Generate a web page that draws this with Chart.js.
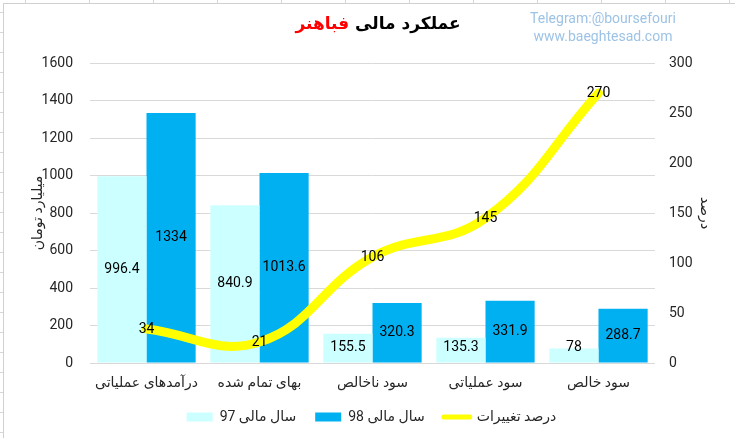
<!DOCTYPE html>
<html>
<head>
<meta charset="utf-8">
<script src="https://cdn.jsdelivr.net/npm/chart.js@4.4.0/dist/chart.umd.min.js"></script>
<style>
  html, body { margin: 0; padding: 0; }
  #wrap {
    position: relative; width: 735px; height: 438px; overflow: hidden;
    background-color: #fff;
    background-image:
      repeating-linear-gradient(to right, transparent 0 25px, #d6d6d6 25px 26px, transparent 26px 64px),
      repeating-linear-gradient(to bottom, transparent 0 12px, #d6d6d6 12px 13px, transparent 13px 20px);
  }
  #sheet { position: absolute; left: 3px; top: 3px; right: 0; bottom: 0; background: #fff;
           border-left: 1px solid #d0d0d0; border-top: 1px solid #d0d0d0; }
  #c { position: absolute; left: 0; top: 0; }
  #title { position: absolute; left: 250px; width: 256px; top: 13px; text-align: center;
           font: bold 17px "DejaVu Sans", sans-serif; color: #000; direction: rtl; }
  #title .red { color: #ff0000; }
  #wm { position: absolute; left: 518px; width: 170px; top: 9px; text-align: center;
        font: 14px Roboto, "DejaVu Sans", sans-serif; color: #9dc3e6; line-height: 18px; }
</style>
</head>
<body>
<div id="wrap">
  <div id="sheet"></div>
  <canvas id="c" width="735" height="438"></canvas>
  <div id="title">عملکرد مالی <span class="red">فباهنر</span></div>
  <div id="wm">Telegram:@boursefouri<br>www.baeghtesad.com</div>
</div>
<script>
const categories = ["درآمدهای عملیاتی", "بهای تمام شده", "سود ناخالص", "سود عملیاتی", "سود خالص"];
const year97 = [996.4, 840.9, 155.5, 135.3, 78];
const year98 = [1334, 1013.6, 320.3, 331.9, 288.7];
const changePct = [34, 21, 106, 145, 270];
const seriesNames = ["سال مالی 97", "سال مالی 98", "درصد تغییرات"];
const leftTitle = "میلیارد تومان";
const rightTitle = "درصد";

const FONT = 'Roboto, "DejaVu Sans", sans-serif';

const labelPlugin = {
  id: 'valueLabels',
  afterDatasetsDraw(chart) {
    const ctx = chart.ctx;
    ctx.save();
    ctx.font = '14px ' + FONT;
    ctx.fillStyle = '#000';
    ctx.textAlign = 'center';
    ctx.textBaseline = 'middle';
    chart.data.datasets.forEach((ds, di) => {
      const meta = chart.getDatasetMeta(di);
      meta.data.forEach((el, i) => {
        const v = ds.data[i];
        let x = el.x, y;
        if (ds.type === 'line') {
          y = el.y;
        } else {
          y = (el.y + el.base) / 2;
          y = Math.min(y, el.base - 15);
        }
        ctx.fillText(String(v), x, y);
      });
    });
    ctx.restore();
  }
};

new Chart(document.getElementById('c'), {
  data: {
    labels: categories,
    datasets: [
      { type: 'bar', label: seriesNames[0], data: year97, backgroundColor: '#ccffff', yAxisID: 'y', order: 2,
        categoryPercentage: 0.87, barPercentage: 1 },
      { type: 'bar', label: seriesNames[1], data: year98, backgroundColor: '#00b0f0', yAxisID: 'y', order: 2,
        categoryPercentage: 0.87, barPercentage: 1 },
      { type: 'line', label: seriesNames[2], data: changePct, borderColor: '#ffff00', backgroundColor: '#ffff00',
        borderWidth: 9, tension: 0.42, pointRadius: 0, borderCapStyle: 'round', yAxisID: 'y1', order: 1 }
    ]
  },
  options: {
    responsive: false,
    animation: false,
    devicePixelRatio: 1,
    layout: { padding: { left: 26, right: 18, top: 63, bottom: 4 } },
    plugins: {
      tooltip: { enabled: false },
      title: { display: false },
      legend: {
        position: 'bottom',
        labels: {
          font: { size: 14, family: FONT },
          color: '#262626',
          usePointStyle: true,
          pointStyleWidth: 26,
          boxHeight: 9,
          padding: 19,
          generateLabels(chart) {
            return chart.data.datasets.map((ds, i) => ({
              text: ds.label,
              datasetIndex: i,
              fillStyle: ds.backgroundColor,
              strokeStyle: ds.borderColor || ds.backgroundColor,
              lineWidth: ds.type === 'line' ? 5 : 0,
              lineCap: 'round',
              pointStyle: ds.type === 'line' ? 'line' : 'rect',
              fontColor: '#262626',
              hidden: false
            }));
          }
        }
      }
    },
    scales: {
      x: {
        grid: { display: false },
        border: { display: false },
        ticks: { font: { size: 14, family: FONT }, color: '#262626', padding: 4 },
        afterFit(s) { s.height = 28; }
      },
      y: {
        position: 'left',
        min: 0, max: 1600,
        ticks: { stepSize: 200, font: { size: 14, family: FONT }, color: '#262626', padding: 17,
                 callback: (v) => String(v) },
        grid: { color: '#d9d9d9', drawTicks: false },
        border: { display: false },
        title: { display: true, text: leftTitle, font: { size: 14, family: FONT }, color: '#262626', padding: 4 },
        afterFit(s) { s.width = 64; }
      },
      y1: {
        position: 'right',
        min: 0, max: 300,
        ticks: { stepSize: 50, font: { size: 14, family: FONT }, color: '#262626', padding: 14,
                 callback: (v) => String(v) },
        grid: { display: false, drawTicks: false },
        border: { display: false },
        title: { display: true, text: rightTitle, font: { size: 14, family: FONT }, color: '#262626', padding: 4 },
        afterFit(s) { s.width = 62; }
      }
    }
  },
  plugins: [labelPlugin]
});
</script>
</body>
</html>
